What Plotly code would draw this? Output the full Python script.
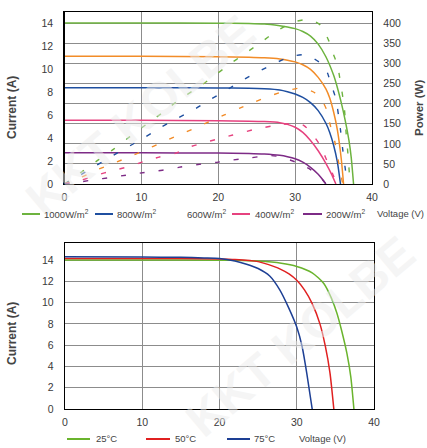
import plotly.graph_objects as go

W, H = 427, 448
ML, MR, MT, MB = 64, 53, 12, 39
PW, PH = W - ML - MR, H - MT - MB
def px(x): return (x - ML) / PW
def py(y): return (H - MB - y) / PH

# ---------------- Data: top chart (irradiance) ----------------
# Current curves (solid), voltage in V, current in A
v_i1000 = [0, 10, 20, 24, 26, 28, 29, 30, 31, 32, 33, 34, 35, 35.5, 36, 36.5, 37, 37.3, 37.6]
i_1000 = [14.05, 14.05, 14.02, 14.0, 13.95, 13.8, 13.7, 13.55, 13.3, 12.9, 12.2, 11.1, 9.5, 8.4, 7.1, 5.6, 3.8, 2.3, 0]
v_i800 = [0, 10, 20, 24, 26, 28, 29, 30, 31, 32, 33, 34, 34.5, 35, 35.5, 36, 36.3]
i_800 = [11.15, 11.15, 11.1, 11.05, 11.0, 10.9, 10.8, 10.65, 10.4, 10.0, 9.3, 8.3, 7.5, 6.3, 4.7, 2.2, 0]
v_i600 = [0, 10, 20, 24, 26, 28, 29, 30, 31, 32, 33, 34, 34.5, 35, 35.5, 35.9]
i_600 = [8.4, 8.4, 8.38, 8.35, 8.3, 8.2, 8.05, 7.85, 7.55, 7.1, 6.4, 5.3, 4.5, 3.4, 1.9, 0]
v_i400 = [0, 10, 20, 24, 26, 28, 29, 30, 31, 32, 33, 34, 34.7, 35.3]
i_400 = [5.55, 5.55, 5.52, 5.48, 5.44, 5.35, 5.2, 4.95, 4.5, 3.8, 2.9, 1.8, 0.9, 0]
v_i200 = [0, 10, 20, 24, 26, 28, 29, 30, 31, 32, 33, 33.5, 34.0]
i_200 = [2.72, 2.72, 2.7, 2.67, 2.62, 2.5, 2.38, 2.2, 1.9, 1.45, 0.85, 0.45, 0]

# Power curves (dashed), voltage in V, power in W
v_p1000 = [0, 2.3, 4.4, 6.4, 8.5, 10.6, 12.7, 14.9, 17.1, 19.1, 21.3, 23.4, 25.5, 27.5, 29.7, 31.8, 33.3, 34.4, 35.0, 35.5, 35.8, 36.4, 36.6, 36.9, 37.1, 37.3]
p_1000 = [0, 31, 60, 87, 118, 148, 177, 210, 237, 264, 296, 324, 352, 380, 403, 410, 396, 356, 322, 297, 265, 190, 135, 68, 18, 0]
v_p800 = [0, 2.3, 4.2, 6.4, 8.5, 10.5, 12.6, 14.8, 17.0, 18.9, 21.0, 23.0, 25.1, 27.3, 29.3, 31.4, 33.6, 34.2, 34.7, 35.3, 35.9, 36.2, 36.6, 36.8]
p_800 = [0, 25, 47, 72, 95, 117, 142, 165, 187, 210, 233, 257, 279, 300, 317, 322, 297, 277, 247, 212, 135, 85, 27, 0]
v_p600 = [0, 2.2, 4.2, 6.4, 8.5, 10.5, 12.6, 14.6, 16.7, 18.8, 20.8, 22.8, 24.8, 26.8, 28.8, 30.8, 32.5, 33.5, 34.1, 34.5, 35.2, 35.6, 36.0, 36.2]
p_600 = [0, 17, 35, 52, 68, 85, 103, 120, 137, 155, 172, 189, 205, 220, 232, 239, 228, 208, 185, 152, 102, 60, 18, 0]
v_p400 = [0, 2.2, 4.2, 6.2, 8.3, 10.3, 12.3, 14.5, 16.2, 18.0, 19.9, 21.9, 24.5, 27.1, 28.6, 30.2, 31.2, 32.2, 33.2, 34.1, 35.0, 35.5]
p_400 = [0, 10, 22, 33, 43, 56, 67, 77, 92, 102, 112, 122, 135, 145, 149, 152, 145, 125, 98, 60, 20, 0]
v_p200 = [0, 2.3, 4.0, 5.9, 8.0, 9.8, 11.8, 13.7, 15.0, 18.0, 19.8, 21.9, 24.1, 26.7, 28.0, 30.0, 32.0, 33.5, 34.0]
p_200 = [0, 6, 11, 16, 22, 27, 32, 37, 42, 50, 54, 60, 65, 71, 68, 55, 36, 12, 0]

irr_labels = ["1000W/m<sup>2</sup>", "800W/m<sup>2</sup>", "600W/m<sup>2</sup>", "400W/m<sup>2</sup>", "200W/m<sup>2</sup>"]

# ---------------- Data: bottom chart (temperature) ----------------
v_t25 = [0, 10, 20, 23, 25, 28, 30, 32, 33.5, 34.5, 35.2, 35.8, 36.5, 37.0, 37.4]
i_t25 = [14.0, 14.0, 13.98, 13.95, 13.9, 13.7, 13.4, 12.8, 11.8, 10.4, 9.0, 7.4, 5.2, 3.0, 0]
v_t50 = [0, 10, 20, 22, 25, 27, 28, 29, 30, 31, 32, 33, 33.7, 34.3, 34.8]
i_t50 = [14.15, 14.15, 14.1, 14.05, 13.85, 13.4, 13.1, 12.7, 12.1, 11.2, 9.9, 8.0, 5.9, 3.4, 0]
v_t75 = [0, 10, 15, 18, 20, 22, 23.5, 25, 26.5, 27.8, 28.9, 30.0, 30.7, 31.3, 32.0]
i_t75 = [14.3, 14.28, 14.25, 14.2, 14.15, 13.9, 13.6, 13.2, 12.5, 11.2, 9.6, 7.7, 5.85, 3.35, 0]
temp_labels = ["25°C", "50°C", "75°C"]

v_ticks = [0, 10, 20, 30, 40]
v_grid = [5, 15, 25, 35]
i_ticks = [0, 2, 4, 6, 8, 10, 12, 14]
p_ticks = [0, 50, 100, 150, 200, 250, 300, 350, 400]

# ---------------- Styles ----------------
GREEN, ORANGE, BLUE, PINK, PURPLE = "#6db33f", "#f28c28", "#1f4fa0", "#e6427f", "#7d2b86"
T_GREEN, T_RED, T_BLUE = "#6ab42d", "#e02020", "#1d3f94"
FONT = "Liberation Sans, Arial, sans-serif"
GRID = "#8c8c8c"
TXT = "#3a3a3a"

fig = go.Figure()

def solid(x, y, color, xa, ya):
    fig.add_trace(go.Scatter(x=x, y=y, mode="lines", xaxis=xa, yaxis=ya, showlegend=False,
                             line=dict(color=color, width=1.5, shape="spline", smoothing=0.6),
                             hoverinfo="skip"))

def dashed(x, y, color):
    fig.add_trace(go.Scatter(x=x, y=y, mode="lines", xaxis="x", yaxis="y2", showlegend=False,
                             line=dict(color=color, width=1.4, dash="5px,14px", shape="spline", smoothing=0.6),
                             hoverinfo="skip"))

dashed(v_p1000, p_1000, GREEN)
dashed(v_p800, p_800, BLUE)
dashed(v_p600, p_600, ORANGE)
dashed(v_p400, p_400, PINK)
dashed(v_p200, p_200, PURPLE)

solid(v_i1000, i_1000, GREEN, "x", "y")
solid(v_i800, i_800, ORANGE, "x", "y")
solid(v_i600, i_600, BLUE, "x", "y")
solid(v_i400, i_400, PINK, "x", "y")
solid(v_i200, i_200, PURPLE, "x", "y")

solid(v_t25, i_t25, T_GREEN, "x2", "y3")
solid(v_t50, i_t50, T_RED, "x2", "y3")
solid(v_t75, i_t75, T_BLUE, "x2", "y3")

tickfont = dict(family=FONT, size=10.5, color=TXT)
xcommon = dict(range=[0, 40], tickvals=v_ticks, showgrid=True, gridcolor=GRID, gridwidth=1,
               showline=True, linecolor="black", linewidth=1.2, mirror=True, ticks="",
               tickfont=tickfont, zeroline=False, ticklabelstandoff=3)
xgrid = dict(range=[0, 40], tickvals=v_grid, showgrid=True, gridcolor=GRID, gridwidth=1,
             showticklabels=False, showline=False, ticks="", zeroline=False)

TOP_X = [px(64.5), px(372)]
BOT_X = [px(65), px(374)]

fig.update_layout(
    width=W, height=H, margin=dict(l=ML, r=MR, t=MT, b=MB, autoexpand=False),
    paper_bgcolor="white", plot_bgcolor="white", showlegend=False,
    xaxis=dict(domain=TOP_X, anchor="y", **xcommon),
    xaxis3=dict(domain=TOP_X, anchor="y", overlaying="x", **xgrid),
    yaxis=dict(domain=[py(184), py(12)], anchor="x", range=[0, 15], tickvals=i_ticks,
               showgrid=False, showline=True, linecolor="black", linewidth=1.2, mirror=False,
               ticks="", tickfont=tickfont, zeroline=False, ticklabelstandoff=8),
    yaxis2=dict(overlaying="y", side="right", anchor="x", range=[0, 400 * 15 / 14], tickvals=p_ticks,
                showgrid=True, gridcolor=GRID, gridwidth=1, showline=True, linecolor="black",
                linewidth=1.2, ticks="", tickfont=tickfont, zeroline=False, ticklabelstandoff=8),
    xaxis2=dict(domain=BOT_X, anchor="y3", **xcommon),
    xaxis4=dict(domain=BOT_X, anchor="y3", overlaying="x2", **xgrid),
    yaxis3=dict(domain=[py(409), py(243)], anchor="x2", range=[0, 15.6], tickvals=i_ticks,
                showgrid=True, gridcolor=GRID, gridwidth=1, showline=True, linecolor="black",
                linewidth=1.2, mirror=True, ticks="", tickfont=tickfont, zeroline=False,
                ticklabelstandoff=8),
)

ann = []
shapes = []
def text(x, y, s, size=10, bold=False, angle=0, anchor="left", color=TXT):
    ann.append(dict(x=px(x), y=py(y), xref="paper", yref="paper", text=("<b>%s</b>" % s) if bold else s,
                    showarrow=False, xanchor=anchor, yanchor="middle", textangle=angle,
                    font=dict(family=FONT, size=size, color=color)))

def legline(x0, x1, y, color):
    shapes.append(dict(type="line", xref="paper", yref="paper", x0=px(x0), x1=px(x1), y0=py(y), y1=py(y),
                       line=dict(color=color, width=2)))

# watermark
for (cx, cy) in [(140, 115), (300, 336)]:
    ann.append(dict(x=px(cx), y=py(cy), xref="paper", yref="paper", text="<b>KKT KOLBE</b>",
                    showarrow=False, xanchor="center", yanchor="middle", textangle=-40,
                    font=dict(family=FONT, size=48, color="rgba(235,235,235,0.5)")))

# axis titles
text(12, 107, "Current (A)", size=12, bold=True, angle=-90, anchor="center", color="#444")
text(12, 333, "Current (A)", size=12, bold=True, angle=-90, anchor="center", color="#444")
text(419, 108, "Power (W)", size=11.5, bold=True, angle=-90, anchor="center", color="#444")

# top legend
leg_top = [(22, 40, 41.5, GREEN), (95, 113, 115, BLUE), (None, None, 185, None), (232, 250, 253, PINK), (303, 322, 324, PURPLE)]
for (a, b, t, c), lab in zip(leg_top, irr_labels):
    if c is not None:
        legline(a, b, 214, c)
    text(t, 213.5, lab, size=9.5, color="#444")
text(375, 213.5, "Voltage (V)", size=9.5, color="#444")

# bottom legend
leg_bot = [(67, 90, 94, T_GREEN), (146, 170, 173, T_RED), (227, 250, 252, T_BLUE)]
for (a, b, t, c), lab in zip(leg_bot, temp_labels):
    legline(a, b, 439, c)
    text(t, 438.5, lab, size=9.5, color="#444")
text(297, 438.5, "Voltage (V)", size=9.5, color="#444")

fig.update_layout(annotations=ann, shapes=shapes)
fig.write_html("out.html", config={"displayModeBar": False, "staticPlot": True},
               post_script="document.body.style.margin='0px';document.body.style.overflow='hidden';")
